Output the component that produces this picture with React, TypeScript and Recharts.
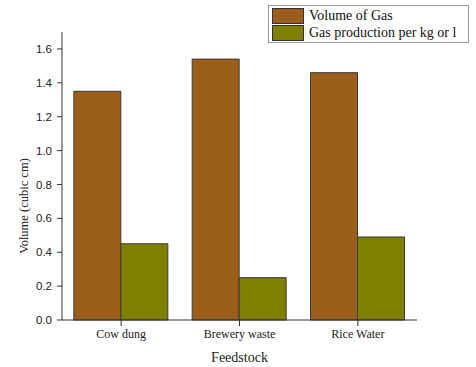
import { BarChart, Bar, XAxis, YAxis } from "recharts"

const feedstocks = ["Cow dung", "Brewery waste", "Rice Water"]
const volumeOfGas = [1.35, 1.54, 1.46]
const gasPerKg = [0.45, 0.25, 0.49]
const majorTicks = [0, 0.2, 0.4, 0.6, 0.8, 1.0, 1.2, 1.4, 1.6]
const minorTicks = [0.1, 0.3, 0.5, 0.7, 0.9, 1.1, 1.3, 1.5, 1.7]
const boundaryTicks = [0, 1, 2, 3]

const VOLUME_COLOR = "#9b5e1b"
const GAS_COLOR = "#7f7f00"
const serif = "'Liberation Serif', 'Times New Roman', serif"
const sans = "'Liberation Sans', Arial, sans-serif"

const data = feedstocks.map((name, i) => ({
  name,
  volume: volumeOfGas[i],
  perKg: gasPerKg[i],
}))

const LegendBox = () => {
  const rows = [
    { label: "Volume of Gas", color: VOLUME_COLOR },
    { label: "Gas production per kg or l", color: GAS_COLOR },
  ]
  return (
    <div
      style={{
        position: "absolute",
        left: 268,
        top: 5,
        width: 193,
        border: "1px solid #999",
        padding: "1px 3px",
        background: "#fff",
        fontFamily: serif,
        fontSize: 14,
        color: "#111",
      }}
    >
      {rows.map((r) => (
        <div key={r.label} style={{ display: "flex", alignItems: "center", height: 17 }}>
          <span
            style={{
              display: "inline-block",
              width: 30,
              height: 14,
              background: r.color,
              border: "1px solid #333",
              marginRight: 5,
            }}
          />
          <span>{r.label}</span>
        </div>
      ))}
    </div>
  )
}

export default function App() {
  return (
    <div style={{ position: "absolute", left: 0, top: 0, width: 476, height: 367, background: "#fff" }}>
      <BarChart
        width={476}
        height={367}
        data={data}
        margin={{ top: 32, right: 59, bottom: 0, left: 0 }}
        barCategoryGap="10%"
        barGap={0}
      >
        <XAxis
          xAxisId="cat"
          dataKey="name"
          height={47}
          tickSize={6}
          tickMargin={3}
          stroke="#333"
          tick={{ fill: "#222", fontFamily: serif, fontSize: 12 }}
          label={{
            value: "Feedstock",
            position: "insideBottom",
            offset: 5,
            fill: "#222",
            fontFamily: serif,
            fontSize: 14,
          }}
        />
        <XAxis
          xAxisId="minor"
          type="number"
          domain={[0, 3]}
          ticks={boundaryTicks}
          height={0}
          tickSize={3}
          tick={false}
          axisLine={false}
          stroke="#333"
        />
        <YAxis
          yAxisId="main"
          width={62}
          domain={[0, 1.7]}
          ticks={majorTicks}
          tickSize={5}
          tickMargin={5}
          interval={0}
          stroke="#333"
          tickFormatter={(v: number) => v.toFixed(1)}
          tick={{ fill: "#222", fontFamily: sans, fontSize: 11.5 }}
          label={{
            value: "Volume (cubic cm)",
            angle: -90,
            position: "insideLeft",
            offset: 24,
            dy: 30,
            fill: "#222",
            fontFamily: serif,
            fontSize: 12.5,
            style: { textAnchor: "middle" },
          }}
        />
        <YAxis
          yAxisId="minor"
          width={0}
          domain={[0, 1.7]}
          ticks={minorTicks}
          tickSize={3}
          tick={false}
          axisLine={false}
          interval={0}
          stroke="#333"
        />
        <Bar
          xAxisId="cat"
          yAxisId="main"
          dataKey="volume"
          name="Volume of Gas"
          fill={VOLUME_COLOR}
          stroke="#3a3a3a"
          strokeWidth={1}
          isAnimationActive={false}
        />
        <Bar
          xAxisId="cat"
          yAxisId="main"
          dataKey="perKg"
          name="Gas production per kg or l"
          fill={GAS_COLOR}
          stroke="#3a3a3a"
          strokeWidth={1}
          isAnimationActive={false}
        />
      </BarChart>
      <LegendBox />
    </div>
  )
}
